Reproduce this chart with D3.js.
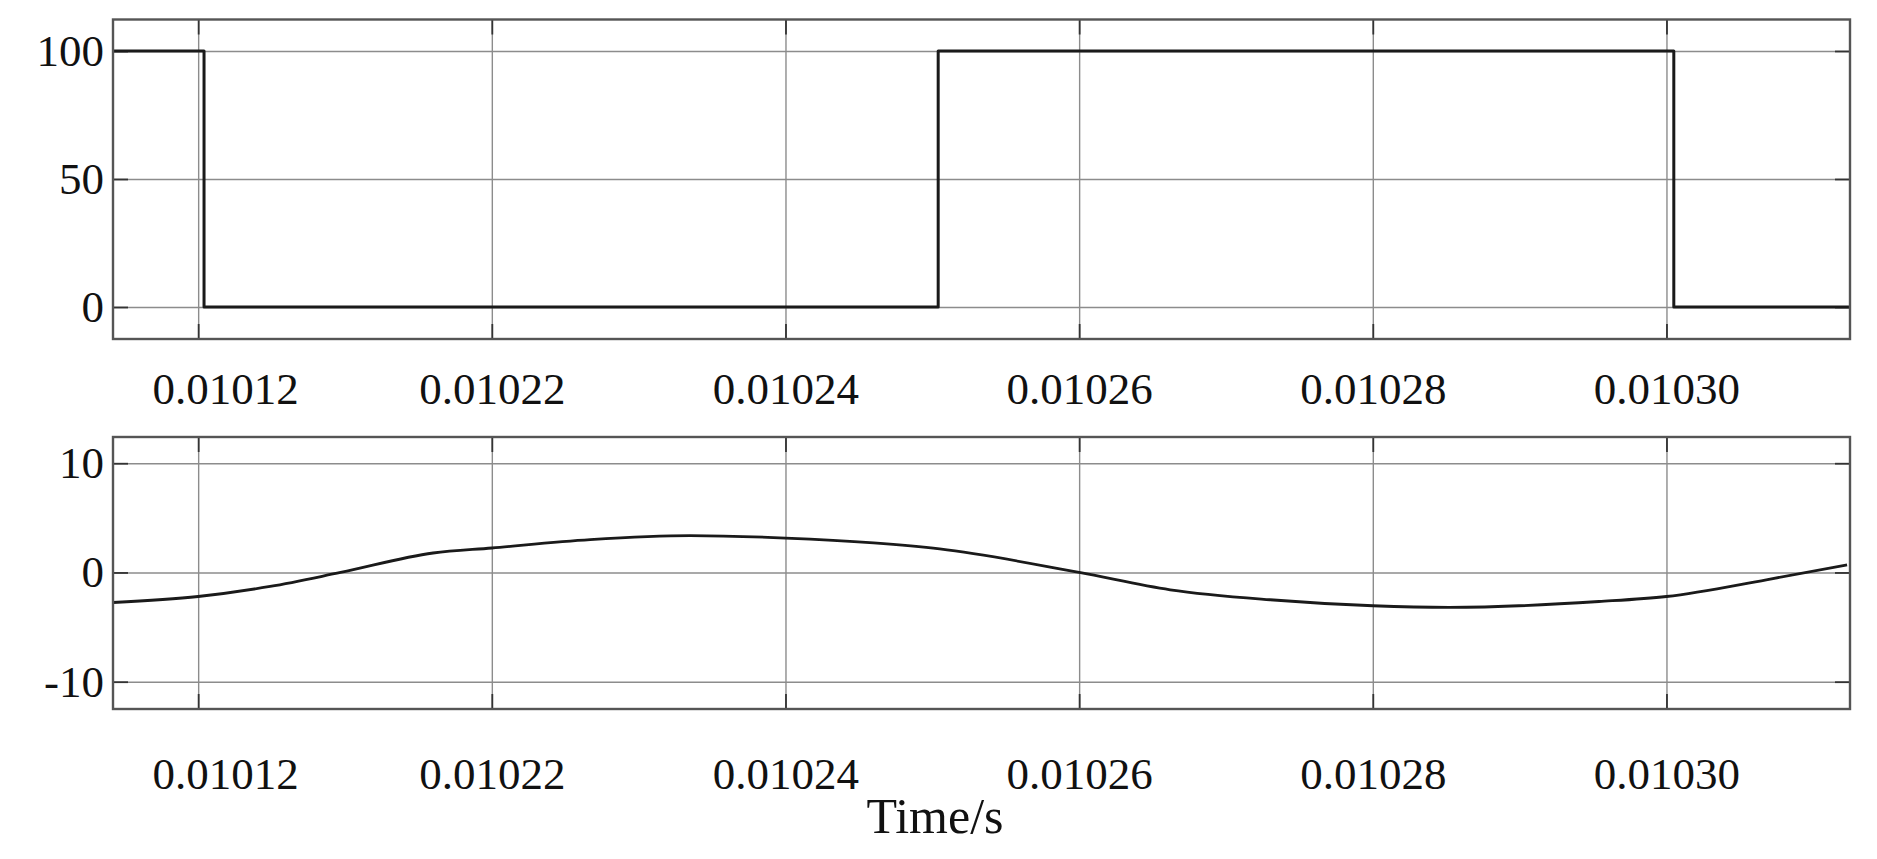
<!DOCTYPE html>
<html>
<head>
<meta charset="utf-8">
<script src="https://cdn.jsdelivr.net/npm/d3@7"></script>
<style>
  body { margin: 0; background: #fff; }
  text { font-family: "Liberation Serif", "Times New Roman", serif; fill: #111; }
</style>
</head>
<body>
<div id="chart"></div>
<script>
// tick positions and their printed labels (first label is printed as in the source figure)
var xTicks = [0.01020, 0.01022, 0.01024, 0.01026, 0.01028, 0.01030];
var xTickLabels = ["0.01012", "0.01022", "0.01024", "0.01026", "0.01028", "0.01030"];
var xDomain = [0.0101942, 0.0103125];

// top panel: switching signal (step)
var pulseTime = [0.0101942, 0.0102004, 0.0102504, 0.0103005, 0.0103125];
var pulseValue = [100, 0, 100, 0, 0];
var pulseTicks = [0, 50, 100];

// bottom panel: current
var curTime = [0.0101942, 0.0102000, 0.0102049, 0.0102097, 0.0102160, 0.0102200, 0.0102267,
               0.0102335, 0.0102400, 0.0102460, 0.0102505, 0.0102600, 0.0102662, 0.0102730,
               0.0102800, 0.0102852, 0.0102954, 0.0103000, 0.0103068, 0.0103123];
var curValue = [-2.75, -2.2, -1.28, 0, 1.78, 2.24, 3.0,
                3.37, 3.15, 2.7, 2.15, 0, -1.59, -2.5,
                -3.05, -3.2, -2.66, -2.2, -0.67, 0.7];
var curTicks = [-10, 0, 10];

var W = 1877, H = 859;
var left = 113, right = 1850;

var svg = d3.select("#chart").append("svg")
    .attr("width", W)
    .attr("height", H);

var x = d3.scaleLinear().domain(xDomain).range([left, right]);

function panel(top, bottom, yDomain, yTicks, times, values, curve, labelY, lineW) {
  var y = d3.scaleLinear().domain(yDomain).range([bottom, top]);
  var w = right - left, h = bottom - top;
  var g = svg.append("g");

  // grid
  g.append("g")
      .attr("transform", "translate(" + left + ",0)")
      .call(d3.axisLeft(y).tickValues(yTicks).tickSize(-w).tickFormat(""))
      .call(function(s) { s.select(".domain").remove(); })
      .selectAll("line").attr("stroke", "#8c8c8c").attr("stroke-width", 1.4);
  g.append("g")
      .attr("transform", "translate(0," + bottom + ")")
      .call(d3.axisBottom(x).tickValues(xTicks).tickSize(-h).tickFormat(""))
      .call(function(s) { s.select(".domain").remove(); })
      .selectAll("line").attr("stroke", "#8c8c8c").attr("stroke-width", 1.4);

  // short dark ticks on the frame, pointing inward
  var tl = 15;
  [[d3.axisLeft(y).tickValues(yTicks), "translate(" + left + ",0)"],
   [d3.axisRight(y).tickValues(yTicks), "translate(" + right + ",0)"],
   [d3.axisBottom(x).tickValues(xTicks), "translate(0," + bottom + ")"],
   [d3.axisTop(x).tickValues(xTicks), "translate(0," + top + ")"]].forEach(function(a) {
    g.append("g")
        .attr("transform", a[1])
        .call(a[0].tickSize(-tl).tickFormat(""))
        .call(function(s) { s.select(".domain").remove(); })
        .selectAll("line").attr("stroke", "#333").attr("stroke-width", 1.8);
  });

  // data
  var pts = times.map(function(t, i) { return [t, values[i]]; });
  g.append("path")
      .datum(pts)
      .attr("fill", "none")
      .attr("stroke", "#1a1a1a")
      .attr("stroke-width", lineW)
      .attr("stroke-linejoin", "round")
      .attr("d", d3.line()
          .x(function(d) { return x(d[0]); })
          .y(function(d) { return y(d[1]); })
          .curve(curve));

  // frame
  g.append("rect")
      .attr("x", left).attr("y", top)
      .attr("width", w).attr("height", h)
      .attr("fill", "none")
      .attr("stroke", "#555")
      .attr("stroke-width", 2.4);

  // y labels
  var ya = g.append("g")
      .attr("transform", "translate(" + (left - 6) + ",0)")
      .call(d3.axisLeft(y).tickValues(yTicks).tickSize(0).tickFormat(function(d) { return d; }));
  ya.select(".domain").remove();
  ya.selectAll("text")
      .attr("font-family", "Liberation Serif, serif")
      .attr("font-size", 45)
      .attr("fill", "#111")
      .attr("dy", "0.32em");

  // x labels
  var xa = g.append("g")
      .attr("transform", "translate(0," + labelY + ")")
      .call(d3.axisBottom(x).tickValues(xTicks).tickSize(0)
          .tickFormat(function(d, i) { return xTickLabels[i]; }));
  xa.select(".domain").remove();
  xa.selectAll("text")
      .attr("font-family", "Liberation Serif, serif")
      .attr("font-size", 45)
      .attr("fill", "#111")
      .attr("y", 0)
      .attr("dy", 0)
      .attr("dx", function(d, i) { return i === 0 ? 27 : 0; });
}

panel(19.5, 339, [-12.5, 112.3], pulseTicks, pulseTime, pulseValue, d3.curveStepAfter, 404, 3);
panel(437, 709, [-12.5, 12.4], curTicks, curTime, curValue, d3.curveMonotoneX, 789, 2.8);

svg.append("text")
    .attr("x", 935)
    .attr("y", 833)
    .attr("text-anchor", "middle")
    .attr("font-size", 50)
    .text("Time/s");
</script>
</body>
</html>
